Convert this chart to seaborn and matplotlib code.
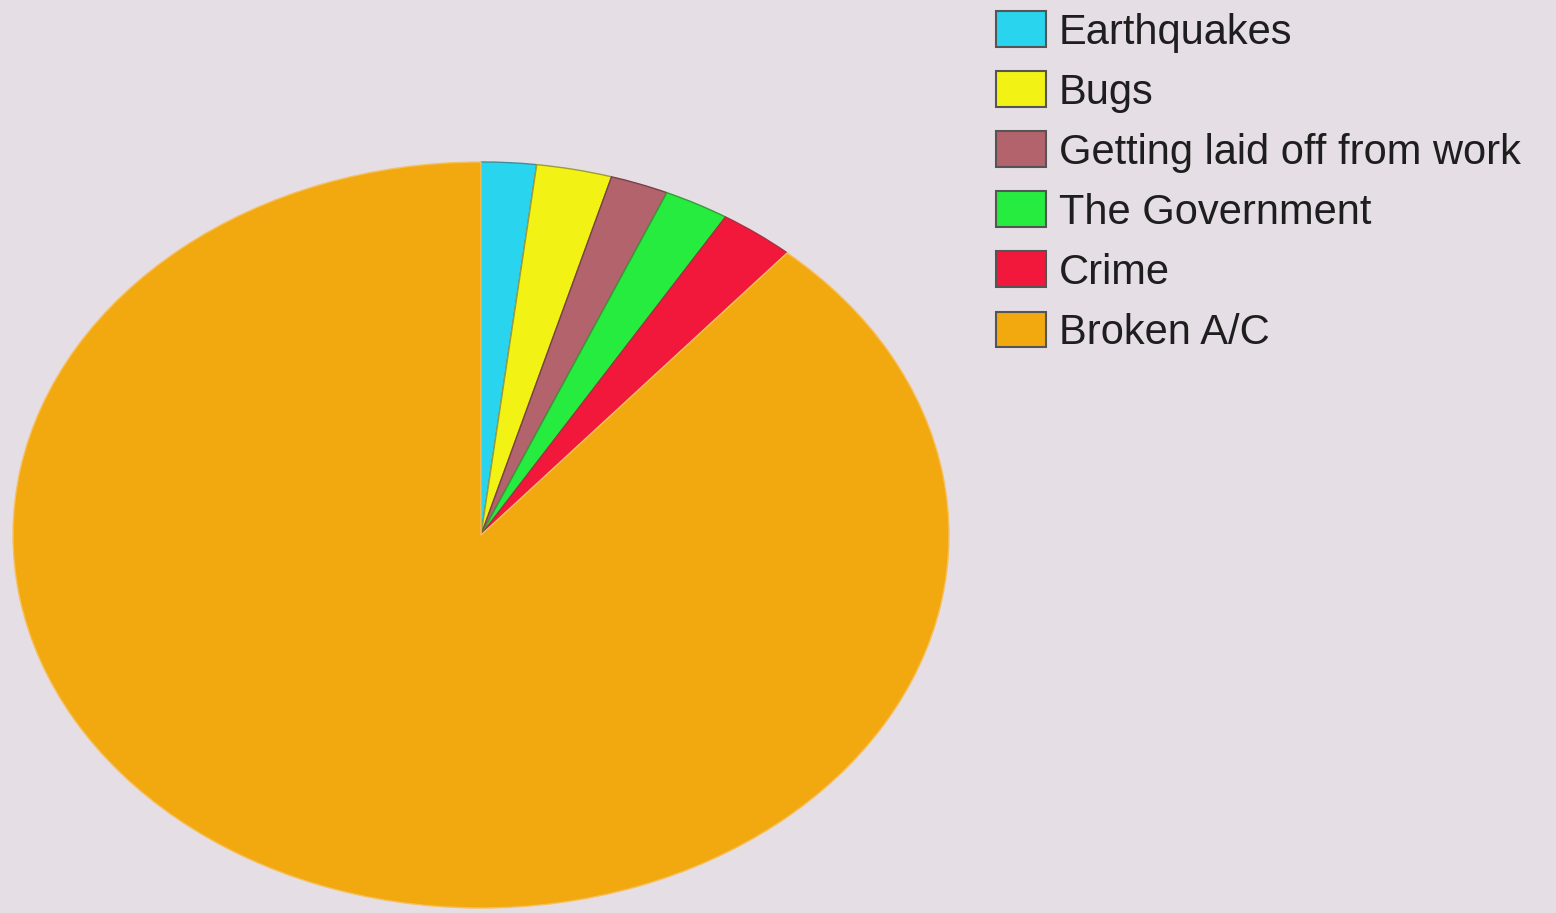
import matplotlib
matplotlib.use("Agg")
import matplotlib.pyplot as plt
import seaborn as sns
from matplotlib.patches import Patch

categories = ["Earthquakes", "Bugs", "Getting laid off from work",
              "The Government", "Crime", "Broken A/C"]
values = [1.9, 2.6, 2.0, 2.25, 2.6, 88.65]
colors = ["#29D4EE", "#F2F215", "#B2636C", "#25EC3E", "#F2183C", "#F2A80F"]
edge_colors = ["#3A8FA0", "#9C9C3A", "#7A4048", "#3A9A3A", "#A83040", "#F5C060"]

BG = "#E6DEE5"
sns.set_theme(style="white", rc={"figure.facecolor": BG, "axes.facecolor": BG})
plt.rcParams["font.family"] = ["Liberation Sans", "DejaVu Sans"]

W, H = 1556, 913
fig = plt.figure(figsize=(W / 100, H / 100), dpi=100)
# ellipse geometry in pixel coords (top-left origin)
cx, cy, rx, ry = 481, 535, 468, 373
ax = fig.add_axes([(cx - rx) / W, (H - cy - ry) / H, 2 * rx / W, 2 * ry / H])
wedges, _ = ax.pie(values, colors=colors, startangle=90, counterclock=False,
                   wedgeprops=dict(linewidth=1.0))
for w, ec in zip(wedges, edge_colors):
    w.set_edgecolor(ec)
ax.set_aspect("auto")
ax.set_xlim(-1, 1)
ax.set_ylim(-1, 1)
ax.axis("off")

handles = [Patch(facecolor=c, edgecolor="#555555", linewidth=1.5) for c in colors]
leg = fig.legend(handles, categories, loc="upper left",
                 bbox_to_anchor=(988 / W, 1 - 3 / H),
                 frameon=False, fontsize=30, handlelength=1.2, handleheight=0.95,
                 handletextpad=0.3, labelspacing=0.45, borderpad=0.2,
                 borderaxespad=0)
for t in leg.get_texts():
    t.set_color("#1E1E1E")

fig.savefig("out.png", dpi=100, facecolor=BG)
